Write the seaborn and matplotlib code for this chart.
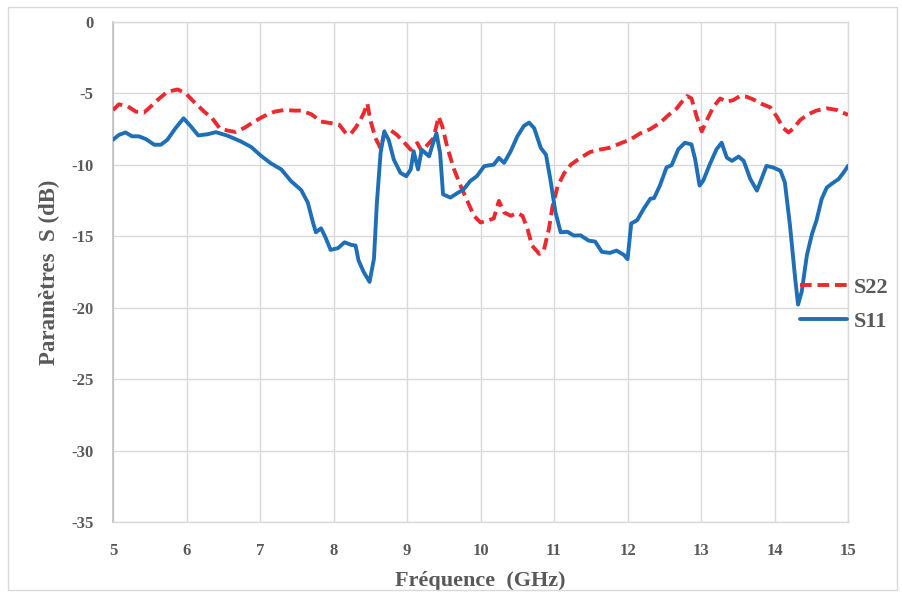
import matplotlib
matplotlib.use("Agg")
import matplotlib.pyplot as plt
import seaborn as sns
import pandas as pd
from matplotlib.patches import Rectangle

# --- data ---
s22_freq = [5.0, 5.08, 5.2, 5.31, 5.42, 5.51, 5.63, 5.74, 5.88, 5.99, 6.1, 6.24, 6.35, 6.45,
            6.56, 6.67, 6.79, 6.92, 7.06, 7.2, 7.33, 7.47, 7.56, 7.7, 7.83, 7.97, 8.08, 8.17,
            8.23, 8.3, 8.36, 8.41, 8.46, 8.5, 8.57, 8.64, 8.7, 8.77, 8.86, 8.95, 9.05, 9.14,
            9.2, 9.28, 9.36, 9.43, 9.48, 9.55, 9.64, 9.73, 9.82, 9.91, 10.0, 10.09, 10.18,
            10.25, 10.32, 10.41, 10.5, 10.57, 10.64, 10.7, 10.8, 10.86, 10.93, 10.98, 11.05,
            11.14, 11.23, 11.36, 11.49, 11.63, 11.76, 11.9, 12.04, 12.17, 12.31, 12.44, 12.56,
            12.67, 12.74, 12.81, 12.87, 12.94, 13.01, 13.08, 13.17, 13.26, 13.35, 13.44, 13.53,
            13.62, 13.71, 13.83, 13.94, 14.03, 14.12, 14.19, 14.26, 14.35, 14.46, 14.57, 14.71,
            14.85, 15.0]
s22_db = [-6.16, -5.76, -5.9, -6.27, -6.34, -5.93, -5.35, -4.88, -4.72, -5.0, -5.58, -6.27,
          -6.74, -7.43, -7.6, -7.7, -7.4, -6.97, -6.57, -6.27, -6.16, -6.2, -6.2, -6.46, -6.97,
          -7.08, -7.2, -7.8, -7.85, -7.4, -6.9, -6.39, -5.7, -6.85, -8.13, -8.82, -7.66, -7.55,
          -7.89, -8.36, -8.94, -8.47, -9.05, -8.59, -8.13, -6.62, -7.31, -8.82, -10.32, -11.48,
          -12.52, -13.56, -14.03, -13.91, -13.75, -12.52, -13.33, -13.56, -13.38, -13.56,
          -14.49, -15.65, -16.23, -16.0, -14.49, -12.87, -11.48, -10.56, -9.98, -9.5, -9.1,
          -8.92, -8.8, -8.5, -8.22, -7.8, -7.49, -7.07, -6.5, -6.04, -5.58, -5.18, -5.35,
          -6.62, -7.66, -6.85, -5.92, -5.35, -5.58, -5.46, -5.18, -5.23, -5.42, -5.74, -5.97,
          -6.62, -7.43, -7.73, -7.43, -6.85, -6.45, -6.2, -6.04, -6.16, -6.5]

s11_freq = [5.0, 5.08, 5.17, 5.26, 5.35, 5.45, 5.56, 5.65, 5.74, 5.85, 5.96, 6.06, 6.16, 6.29,
            6.4, 6.56, 6.74, 6.88, 7.01, 7.15, 7.29, 7.42, 7.56, 7.65, 7.72, 7.76, 7.83, 7.89,
            7.96, 8.06, 8.15, 8.24, 8.3, 8.34, 8.41, 8.49, 8.55, 8.59, 8.64, 8.69, 8.75, 8.82,
            8.91, 8.99, 9.05, 9.09, 9.15, 9.2, 9.25, 9.3, 9.34, 9.4, 9.45, 9.49, 9.59, 9.68,
            9.77, 9.86, 9.95, 10.05, 10.18, 10.25, 10.32, 10.41, 10.5, 10.59, 10.66, 10.73,
            10.82, 10.89, 10.95, 11.02, 11.09, 11.18, 11.27, 11.36, 11.47, 11.56, 11.65, 11.76,
            11.85, 11.95, 12.0, 12.05, 12.13, 12.22, 12.31, 12.36, 12.44, 12.53, 12.6, 12.69,
            12.78, 12.87, 12.92, 12.98, 13.03, 13.12, 13.21, 13.28, 13.35, 13.42, 13.51, 13.58,
            13.67, 13.76, 13.83, 13.89, 13.98, 14.08, 14.14, 14.21, 14.28, 14.32, 14.37, 14.44,
            14.51, 14.57, 14.64, 14.71, 14.8, 14.87, 14.94, 15.0]
s11_db = [-8.24, -7.9, -7.73, -8.0, -8.0, -8.2, -8.59, -8.59, -8.24, -7.43, -6.74, -7.31,
          -7.94, -7.85, -7.71, -7.96, -8.36, -8.75, -9.35, -9.9, -10.32, -11.13, -11.76,
          -12.64, -14.03, -14.72, -14.44, -15.07, -15.95, -15.83, -15.42, -15.6, -15.65,
          -16.69, -17.5, -18.19, -16.57, -12.64, -9.17, -7.66, -8.24, -9.63, -10.56, -10.79,
          -10.32, -9.05, -10.32, -8.94, -9.17, -9.4, -8.7, -7.78, -9.17, -12.06, -12.29,
          -11.99, -11.71, -11.13, -10.79, -10.09, -9.98, -9.51, -9.86, -9.05, -8.01, -7.27,
          -7.04, -7.43, -8.82, -9.28, -11.02, -13.33, -14.72, -14.68, -14.95, -14.93, -15.3,
          -15.37, -16.09, -16.16, -16.0, -16.3, -16.6, -14.1, -13.88, -13.07, -12.37, -12.33,
          -11.45, -10.18, -10.02, -8.91, -8.45, -8.57, -9.61, -11.45, -11.1, -9.95, -8.91,
          -8.45, -9.49, -9.72, -9.42, -9.72, -10.99, -11.8, -10.88, -10.07, -10.18, -10.41,
          -11.22, -14.24, -17.93, -19.78, -18.86, -16.32, -14.82, -13.9, -12.4, -11.59,
          -11.24, -11.0, -10.53, -10.07]

x_ticks = list(range(5, 16))
y_ticks = list(range(-35, 1, 5))

# --- plot ---
sns.set_style("white")
plt.rcParams['font.family'] = ['Liberation Serif', 'DejaVu Serif']
plt.rcParams['axes.unicode_minus'] = False

fig = plt.figure(figsize=(9.02, 5.97), dpi=100)
ax = fig.add_axes([0.1253, 0.1256, 0.8149, 0.8375])

gray_txt = '#595959'
grid_col = '#d9d9d9'

df22 = pd.DataFrame({'f': s22_freq, 'db': s22_db})
df11 = pd.DataFrame({'f': s11_freq, 'db': s11_db})

sns.lineplot(data=df22, x='f', y='db', ax=ax, color='#ea2a2e', linewidth=2.8,
             sort=False, label='S22', zorder=3)
ax.lines[-1].set_dashes((3.0, 1.5))
sns.lineplot(data=df11, x='f', y='db', ax=ax, color='#1f6fb8', linewidth=2.8,
             sort=False, label='S11', zorder=3)

ax.set_xlim(5, 15)
ax.set_ylim(-35, 0)
ax.set_xticks(x_ticks)
ax.set_yticks(y_ticks)
ax.grid(True, color=grid_col, linewidth=1.0)
ax.set_axisbelow(True)
for side in ['top', 'right', 'bottom']:
    ax.spines[side].set_color(grid_col)
    ax.spines[side].set_linewidth(1.0)
ax.spines['left'].set_color('#bfbfbf')
ax.spines['left'].set_linewidth(1.2)
ax.tick_params(axis='x', length=0, labelsize=12, labelcolor=gray_txt, pad=15)
ax.tick_params(axis='y', length=0, labelsize=12, labelcolor=gray_txt, pad=14)
for lab in ax.get_xticklabels() + ax.get_yticklabels():
    lab.set_fontweight('bold')

ax.set_xlabel('Fréquence  (GHz)', fontsize=16, fontweight='bold', color=gray_txt, labelpad=9)
ax.set_ylabel('Paramètres  S (dB)', fontsize=16.5, fontweight='bold', color=gray_txt, labelpad=8)

leg = ax.legend(loc='center left', bbox_to_anchor=(0.9347, 0.435), frameon=False,
                borderpad=0, borderaxespad=0, handlelength=2.1, handletextpad=0.3,
                labelspacing=0.6,
                prop={'family': 'Liberation Serif', 'weight': 'bold', 'size': 16})
for t in leg.get_texts():
    t.set_color(gray_txt)

# outer chart border
fig.patches.append(Rectangle((8 / 902, 7 / 597), 889 / 902, 583 / 597, transform=fig.transFigure,
                             fill=False, edgecolor='#d9d9d9', linewidth=1.0))

fig.savefig('out.png', dpi=100)
